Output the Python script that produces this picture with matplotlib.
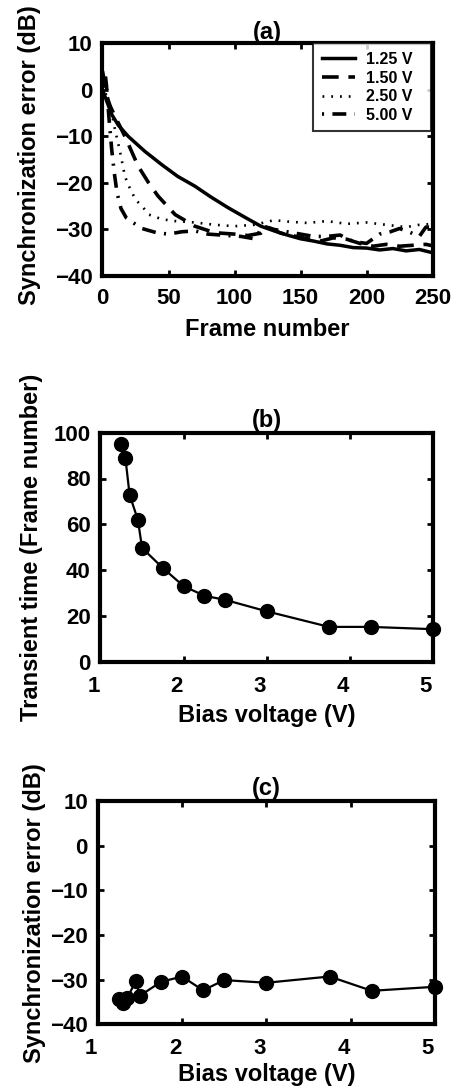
import matplotlib
matplotlib.use("Agg")
import matplotlib.pyplot as plt
import matplotlib.transforms as mtransforms

plt.rcParams['font.family'] = ['Liberation Sans', 'DejaVu Sans']
plt.rcParams['font.weight'] = 'bold'
plt.rcParams['axes.labelweight'] = 'bold'
plt.rcParams['axes.titleweight'] = 'bold'
plt.rcParams['lines.scale_dashes'] = False

# ---------------- data: panel (a) ----------------
frames_125 = [0, 2, 5, 7, 12, 19.5, 32, 45, 57, 70, 82, 95, 108, 120, 130, 140, 150, 160, 170, 180, 190, 200, 210, 220, 230, 240, 250]
err_125 = [0, -1.5, -3.8, -5.3, -7.6, -10.0, -13.2, -16.1, -18.6, -20.7, -23.0, -25.3, -27.4, -29.3, -30.3, -31.2, -32.0,
           -32.5, -33.1, -33.4, -33.9, -34.0, -34.4, -34.1, -34.6, -34.3, -35.0]

frames_150 = [0, 2, 4, 6, 10, 17, 27, 35, 42, 55, 70, 85, 100, 110, 120, 125, 135, 145, 155, 165, 175, 185, 195, 205,
              215, 225, 235, 245, 250]
err_150 = [4, 1, -2, -3.6, -6, -10, -16.4, -20, -22.8, -26.8, -29.3, -30.7, -31.0, -31.3, -30.8, -29.5, -30.8, -31.4,
           -32, -32.5, -31.8, -32.1, -33, -33.6, -33.2, -33.6, -33.4, -33.2, -33.5]

frames_250 = [0, 2, 4, 7, 9.5, 13, 17, 20, 25, 30, 35, 45, 55, 70, 85, 100, 115, 130, 140, 155, 170, 185, 200, 215,
              230, 240, 250]
err_250 = [1, -0.5, -2.1, -5, -8.6, -12.9, -18.6, -20.7, -23.6, -25, -26.8, -27.8, -28.2, -28.5, -29, -29.3, -29,
           -28, -28.3, -28.6, -28.2, -28.8, -28.5, -29, -29.5, -29, -28.8]

frames_500 = [0, 2, 3, 5, 7, 9, 11, 14, 18, 23, 30, 41, 50, 60, 70, 80, 95, 105, 115, 122, 130, 140, 150, 160, 170,
              180, 190, 200, 210, 218, 225, 232, 240, 245, 250]
err_500 = [2, 3.5, 1, -6.4, -12.9, -18, -22.1, -25.5, -27.5, -28.5, -29.8, -30.7, -31, -30.5, -30.3, -31, -31.3,
           -31.5, -32, -29.3, -30, -30.5, -31, -31.5, -31.5, -31.2, -32.6, -33, -31, -30.5, -29.8, -30.5, -31.5,
           -29.5, -29.5]

legend_labels = ['1.25 V', '1.50 V', '2.50 V', '5.00 V']

# ---------------- data: panels (b), (c) ----------------
bias_v = [1.25, 1.30, 1.35, 1.45, 1.50, 1.75, 2.00, 2.25, 2.50, 3.00, 3.75, 4.25, 5.00]
transient = [94.9, 88.8, 72.9, 61.9, 49.7, 40.9, 33.0, 28.8, 27.0, 22.0, 15.2, 15.2, 14.2]
sync_err = [-34.4, -35.3, -34.1, -30.4, -33.6, -30.5, -29.3, -32.4, -30.1, -30.7, -29.3, -32.5, -31.6]

W, H = 456, 1088
fig = plt.figure(figsize=(W / 100, H / 100), dpi=100)


def add_ax(left, top, right, bottom):
    return fig.add_axes([left / W, 1 - bottom / H, (right - left) / W, (bottom - top) / H])


def style(ax, xpad=10):
    for s in ax.spines.values():
        s.set_linewidth(3)
    ax.tick_params(direction='in', length=4, width=2, top=True, right=True,
                   labelsize=16, pad=7)
    ax.tick_params(axis='x', pad=xpad)


LAB = 17

# ---- (a)
axa = add_ax(102.5, 43.3, 432.5, 276)
axa.plot(frames_125, err_125, color='black', lw=2.5, ls='-', label=legend_labels[0])
axa.plot(frames_150, err_150, color='black', lw=2.6, ls=(0, (12, 7)), label=legend_labels[1])
axa.plot(frames_250, err_250, color='black', lw=1.9, ls=(0, (1.3, 5)), label=legend_labels[2])
axa.plot(frames_500, err_500, color='black', lw=2.6, ls=(0, (1.5, 6, 10, 6)), label=legend_labels[3])
axa.set_xlim(0, 250)
axa.set_ylim(-40, 10)
axa.set_xticks([0, 50, 100, 150, 200, 250])
axa.set_yticks([-40, -30, -20, -10, 0, 10])
style(axa, xpad=9)
axa.set_xlabel('Frame number', fontsize=LAB, labelpad=6)
axa.set_ylabel('Synchronization error (dB)', fontsize=LAB)
axa.yaxis.set_label_coords(-0.186, 0.52)
axa.set_title('(a)', fontsize=LAB, pad=3)
x0 = (313 - 102.5) / 330
wleg = (431 - 313) / 330
leg = axa.legend(loc='upper left', bbox_to_anchor=(x0, 0.0, wleg, 1.0), mode='expand', borderaxespad=0,
                 frameon=True, fancybox=False, edgecolor='black', handlelength=2.05,
                 handletextpad=0.7, labelspacing=0.22, borderpad=0.55,
                 prop={'weight': 'bold', 'size': 11.5})
leg.get_frame().set_linewidth(1.5)

shift = mtransforms.ScaledTranslation(-7 / 100, 0, fig.dpi_scale_trans)

# ---- (b)
axb = add_ax(100.5, 432.7, 433, 661.7)
axb.plot(bias_v, transient, color='black', lw=1.6, marker='o', markersize=10, clip_on=False)
axb.set_xlim(1, 5)
axb.set_ylim(0, 100)
axb.set_xticks([1, 2, 3, 4, 5])
axb.set_yticks([0, 20, 40, 60, 80, 100])
style(axb, xpad=10)
for t in axb.get_xticklabels():
    t.set_transform(t.get_transform() + shift)
axb.set_xlabel('Bias voltage (V)', fontsize=LAB, labelpad=5)
axb.set_ylabel('Transient time (Frame number)', fontsize=LAB)
axb.yaxis.set_label_coords(-0.173, 0.5)
axb.set_title('(b)', fontsize=LAB, pad=4)

# ---- (c)
axc = add_ax(97.7, 801, 435, 1024.3)
axc.plot(bias_v, sync_err, color='black', lw=1.6, marker='o', markersize=10, clip_on=False)
axc.set_xlim(1, 5)
axc.set_ylim(-40, 10)
axc.set_xticks([1, 2, 3, 4, 5])
axc.set_yticks([-40, -30, -20, -10, 0, 10])
style(axc, xpad=10)
for t in axc.get_xticklabels():
    t.set_transform(t.get_transform() + shift)
axc.set_xlabel('Bias voltage (V)', fontsize=LAB, labelpad=3)
axc.set_ylabel('Synchronization error (dB)', fontsize=LAB)
axc.yaxis.set_label_coords(-0.153, 0.5)
axc.set_title('(c)', fontsize=LAB, pad=4)

fig.savefig('out.png', dpi=100)
